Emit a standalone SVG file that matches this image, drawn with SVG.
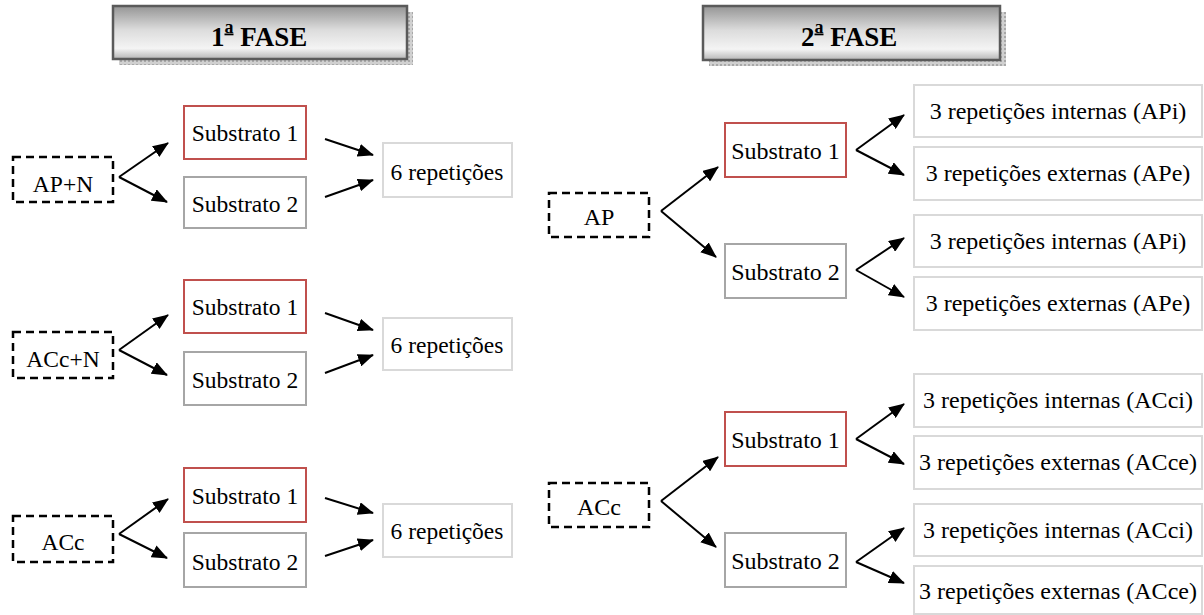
<svg xmlns="http://www.w3.org/2000/svg" width="1204" height="615" viewBox="0 0 1204 615" font-family="'Liberation Serif', 'DejaVu Serif', serif">
<style>
text{font-family:'Liberation Serif','DejaVu Serif',serif;fill:#000}
.l{font-size:23.5px;text-anchor:middle}
.r{font-size:24px;text-anchor:middle}
.t{font-size:27px;font-weight:bold}
.dash{fill:#fff;stroke:#000;stroke-width:2.5;stroke-dasharray:8 5}
.red{fill:#fff;stroke:#c0504d;stroke-width:2}
.gray{fill:#fff;stroke:#a6a6a6;stroke-width:2}
.lt{fill:#fff;stroke:#d9d9d9;stroke-width:2}
.title{fill:url(#tg);stroke:#5a5a5a;stroke-width:2.5}
.shadow{fill:url(#sp)}
#connectors line{stroke:#000;stroke-width:2;marker-end:url(#ah)}
</style>
<defs>
<linearGradient id="tg" x1="0" y1="0" x2="0" y2="1">
<stop offset="0" stop-color="#959595"/>
<stop offset="0.45" stop-color="#dcdcdc"/>
<stop offset="0.8" stop-color="#f4f4f4"/>
<stop offset="1" stop-color="#b5b5b5"/>
</linearGradient>
<pattern id="sp" width="4" height="4" patternUnits="userSpaceOnUse">
<rect width="4" height="4" fill="#d0d0d0"/>
<rect width="2" height="2" fill="#a8a8a8"/>
</pattern>
<marker id="ah" markerUnits="userSpaceOnUse" markerWidth="16" markerHeight="13" refX="15" refY="6.5" orient="auto">
<path d="M0,0 L16,6.5 L0,13 z" fill="#000"/>
</marker>
</defs>

<g id="fase1">
<rect class="shadow" x="119" y="12" width="294" height="53"/>
<rect class="title" x="113" y="6" width="294" height="53"/>
<text class="t" x="211" y="46">1<tspan font-size="18" dy="-13.5" text-decoration="underline">a</tspan><tspan dy="13.5"> FASE</tspan></text>
</g>
<g id="fase2">
<rect class="shadow" x="709" y="12" width="297" height="54"/>
<rect class="title" x="703" y="6" width="297" height="54"/>
<text class="t" x="801" y="46">2<tspan font-size="18" dy="-13.5" text-decoration="underline">a</tspan><tspan dy="13.5"> FASE</tspan></text>
</g>

<g id="apn"><rect class="dash" x="13" y="157" width="100" height="45"/><text class="l" x="63" y="192">AP+N</text></g>
<g id="apn-s1"><rect class="red" x="184" y="106" width="122" height="53"/><text class="l" x="245" y="141">Substrato 1</text></g>
<g id="apn-s2"><rect class="gray" x="184" y="177" width="122" height="51"/><text class="l" x="245" y="212">Substrato 2</text></g>
<g id="apn-rep"><rect class="lt" x="383" y="143" width="129" height="54"/><text class="l" x="447" y="180">6 repetições</text></g>

<g id="accn"><rect class="dash" x="13" y="332" width="100" height="46"/><text class="l" x="63" y="367">ACc+N</text></g>
<g id="accn-s1"><rect class="red" x="184" y="280" width="122" height="53"/><text class="l" x="245" y="315">Substrato 1</text></g>
<g id="accn-s2"><rect class="gray" x="184" y="352" width="122" height="53"/><text class="l" x="245" y="388">Substrato 2</text></g>
<g id="accn-rep"><rect class="lt" x="383" y="318" width="129" height="52"/><text class="l" x="447" y="353">6 repetições</text></g>

<g id="acc1"><rect class="dash" x="13" y="516" width="100" height="46"/><text class="l" x="63" y="550">ACc</text></g>
<g id="acc1-s1"><rect class="red" x="184" y="468" width="122" height="54"/><text class="l" x="245" y="504">Substrato 1</text></g>
<g id="acc1-s2"><rect class="gray" x="184" y="533" width="122" height="54"/><text class="l" x="245" y="570">Substrato 2</text></g>
<g id="acc1-rep"><rect class="lt" x="383" y="504" width="129" height="53"/><text class="l" x="447" y="539">6 repetições</text></g>

<g id="ap2"><rect class="dash" x="549" y="193" width="100" height="44"/><text class="r" x="599" y="225">AP</text></g>
<g id="ap2-s1"><rect class="red" x="725" y="123" width="121" height="54"/><text class="r" x="785.5" y="159">Substrato 1</text></g>
<g id="ap2-s2"><rect class="gray" x="725" y="244" width="121" height="54"/><text class="r" x="785.5" y="280">Substrato 2</text></g>
<g id="ap2-s1-i"><rect class="lt" x="914" y="85" width="288" height="52"/><text class="r" x="1058" y="119">3 repetições internas (APi)</text></g>
<g id="ap2-s1-e"><rect class="lt" x="914" y="147" width="288" height="53"/><text class="r" x="1058" y="181">3 repetições externas (APe)</text></g>
<g id="ap2-s2-i"><rect class="lt" x="914" y="215" width="288" height="52"/><text class="r" x="1058" y="249">3 repetições internas (APi)</text></g>
<g id="ap2-s2-e"><rect class="lt" x="914" y="277" width="288" height="53"/><text class="r" x="1058" y="311">3 repetições externas (APe)</text></g>

<g id="acc2"><rect class="dash" x="549" y="483" width="100" height="44"/><text class="r" x="599" y="515">ACc</text></g>
<g id="acc2-s1"><rect class="red" x="725" y="412" width="121" height="54"/><text class="r" x="785.5" y="448">Substrato 1</text></g>
<g id="acc2-s2"><rect class="gray" x="725" y="533" width="121" height="54"/><text class="r" x="785.5" y="569">Substrato 2</text></g>
<g id="acc2-s1-i"><rect class="lt" x="914" y="374" width="288" height="53"/><text class="r" x="1058" y="408">3 repetições internas (ACci)</text></g>
<g id="acc2-s1-e"><rect class="lt" x="914" y="436" width="288" height="53"/><text class="r" x="1058" y="470">3 repetições externas (ACce)</text></g>
<g id="acc2-s2-i"><rect class="lt" x="914" y="504" width="288" height="52"/><text class="r" x="1058" y="538">3 repetições internas (ACci)</text></g>
<g id="acc2-s2-e"><rect class="lt" x="914" y="566" width="288" height="48"/><text class="r" x="1058" y="599">3 repetições externas (ACce)</text></g>

<g id="connectors">
<line x1="119" y1="177" x2="168" y2="143"/>
<line x1="119" y1="177" x2="167" y2="202"/>
<line x1="325" y1="139" x2="373" y2="155"/>
<line x1="325" y1="197" x2="373" y2="180"/>
<line x1="119" y1="350" x2="168" y2="315"/>
<line x1="119" y1="350" x2="167" y2="375"/>
<line x1="325" y1="313" x2="373" y2="330"/>
<line x1="325" y1="373" x2="373" y2="355"/>
<line x1="119" y1="534" x2="168" y2="499"/>
<line x1="119" y1="534" x2="167" y2="558"/>
<line x1="325" y1="498" x2="373" y2="513"/>
<line x1="325" y1="556" x2="373" y2="540"/>
<line x1="661" y1="211" x2="718" y2="167"/>
<line x1="661" y1="211" x2="716" y2="257"/>
<line x1="856" y1="150" x2="904" y2="115"/>
<line x1="856" y1="150" x2="904" y2="175"/>
<line x1="856" y1="270" x2="904" y2="238"/>
<line x1="856" y1="270" x2="904" y2="297"/>
<line x1="661" y1="501" x2="718" y2="457"/>
<line x1="661" y1="501" x2="716" y2="547"/>
<line x1="856" y1="439" x2="904" y2="404"/>
<line x1="856" y1="439" x2="904" y2="464"/>
<line x1="856" y1="562" x2="904" y2="528"/>
<line x1="856" y1="562" x2="904" y2="583"/>
</g>
</svg>
